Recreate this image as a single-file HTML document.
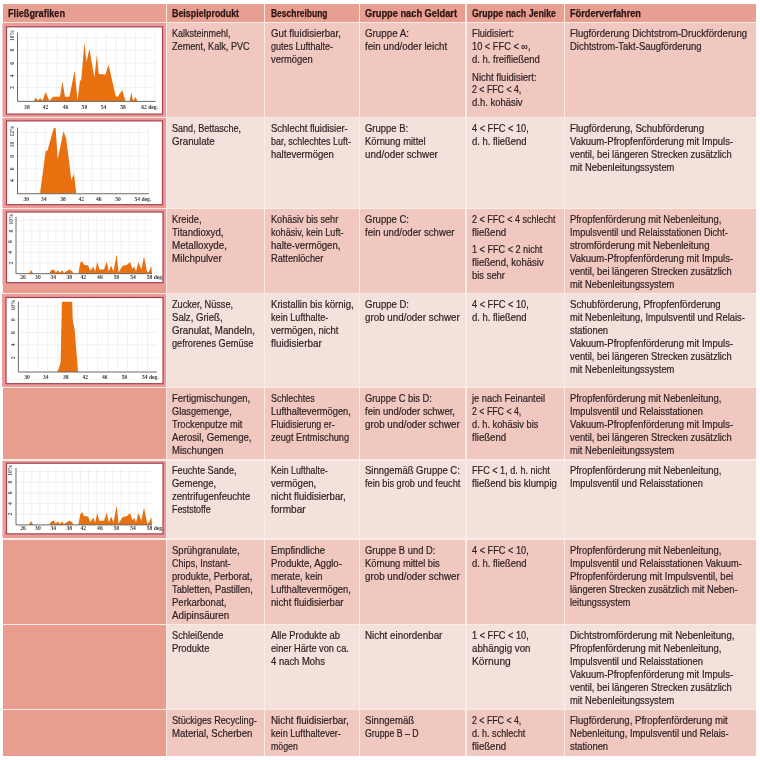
<!DOCTYPE html>
<html lang="de"><head><meta charset="utf-8"><title>Fließgrafiken</title>
<style>
html,body{margin:0;padding:0;background:#fff;}
.bg{position:absolute;left:2.5px;top:4px;width:753.5px;height:751.5px;background:#fbebe7;}
body{width:760px;height:760px;position:relative;overflow:hidden;font-family:"Liberation Sans",Arial,sans-serif;}
#pg{position:absolute;left:0;top:0;width:760px;height:760px;filter:blur(0.4px);background:#fff;}
.c{position:absolute;}
.t{position:absolute;white-space:pre;font-size:10.2px;line-height:12.95px;color:#2a1e20;-webkit-text-stroke:0.2px #2a1e20;transform-origin:0 0;}
.h{position:absolute;white-space:pre;font-size:10.5px;line-height:12px;font-weight:bold;color:#2a1414;transform-origin:0 0;-webkit-text-stroke:0.25px #2a1414;}
svg{position:absolute;left:0;top:0;}
</style></head><body><div id="pg">

<div class="bg"></div>
<div class="c" style="left:2.5px;top:4px;width:163.5px;height:18px;background:#e89e90"></div>
<div class="c" style="left:167px;top:4px;width:97px;height:18px;background:#e89e90"></div>
<div class="c" style="left:265px;top:4px;width:94px;height:18px;background:#e89e90"></div>
<div class="c" style="left:360px;top:4px;width:105px;height:18px;background:#e89e90"></div>
<div class="c" style="left:466.5px;top:4px;width:97.0px;height:18px;background:#e89e90"></div>
<div class="c" style="left:565px;top:4px;width:191px;height:18px;background:#e89e90"></div>
<div class="c" style="left:2.5px;top:23px;width:163.5px;height:94px;background:#e89d8f"></div>
<div class="c" style="left:167px;top:23px;width:97px;height:94px;background:#f0c8c0"></div>
<div class="c" style="left:265px;top:23px;width:94px;height:94px;background:#f0c8c0"></div>
<div class="c" style="left:360px;top:23px;width:105px;height:94px;background:#f0c8c0"></div>
<div class="c" style="left:466.5px;top:23px;width:97.0px;height:94px;background:#f0c8c0"></div>
<div class="c" style="left:565px;top:23px;width:191px;height:94px;background:#f0c8c0"></div>
<div class="c" style="left:2.5px;top:118px;width:163.5px;height:90px;background:#e89d8f"></div>
<div class="c" style="left:167px;top:118px;width:97px;height:90px;background:#f5e1dc"></div>
<div class="c" style="left:265px;top:118px;width:94px;height:90px;background:#f5e1dc"></div>
<div class="c" style="left:360px;top:118px;width:105px;height:90px;background:#f5e1dc"></div>
<div class="c" style="left:466.5px;top:118px;width:97.0px;height:90px;background:#f5e1dc"></div>
<div class="c" style="left:565px;top:118px;width:191px;height:90px;background:#f5e1dc"></div>
<div class="c" style="left:2.5px;top:209px;width:163.5px;height:84px;background:#e89d8f"></div>
<div class="c" style="left:167px;top:209px;width:97px;height:84px;background:#f0c8c0"></div>
<div class="c" style="left:265px;top:209px;width:94px;height:84px;background:#f0c8c0"></div>
<div class="c" style="left:360px;top:209px;width:105px;height:84px;background:#f0c8c0"></div>
<div class="c" style="left:466.5px;top:209px;width:97.0px;height:84px;background:#f0c8c0"></div>
<div class="c" style="left:565px;top:209px;width:191px;height:84px;background:#f0c8c0"></div>
<div class="c" style="left:2.5px;top:294px;width:163.5px;height:93px;background:#e89d8f"></div>
<div class="c" style="left:167px;top:294px;width:97px;height:93px;background:#f5e1dc"></div>
<div class="c" style="left:265px;top:294px;width:94px;height:93px;background:#f5e1dc"></div>
<div class="c" style="left:360px;top:294px;width:105px;height:93px;background:#f5e1dc"></div>
<div class="c" style="left:466.5px;top:294px;width:97.0px;height:93px;background:#f5e1dc"></div>
<div class="c" style="left:565px;top:294px;width:191px;height:93px;background:#f5e1dc"></div>
<div class="c" style="left:2.5px;top:388px;width:163.5px;height:71px;background:#e89d8f"></div>
<div class="c" style="left:167px;top:388px;width:97px;height:71px;background:#f0c8c0"></div>
<div class="c" style="left:265px;top:388px;width:94px;height:71px;background:#f0c8c0"></div>
<div class="c" style="left:360px;top:388px;width:105px;height:71px;background:#f0c8c0"></div>
<div class="c" style="left:466.5px;top:388px;width:97.0px;height:71px;background:#f0c8c0"></div>
<div class="c" style="left:565px;top:388px;width:191px;height:71px;background:#f0c8c0"></div>
<div class="c" style="left:2.5px;top:461px;width:163.5px;height:77px;background:#e89d8f"></div>
<div class="c" style="left:167px;top:461px;width:97px;height:77px;background:#f5e1dc"></div>
<div class="c" style="left:265px;top:461px;width:94px;height:77px;background:#f5e1dc"></div>
<div class="c" style="left:360px;top:461px;width:105px;height:77px;background:#f5e1dc"></div>
<div class="c" style="left:466.5px;top:461px;width:97.0px;height:77px;background:#f5e1dc"></div>
<div class="c" style="left:565px;top:461px;width:191px;height:77px;background:#f5e1dc"></div>
<div class="c" style="left:2.5px;top:540px;width:163.5px;height:84px;background:#e89d8f"></div>
<div class="c" style="left:167px;top:540px;width:97px;height:84px;background:#f0c8c0"></div>
<div class="c" style="left:265px;top:540px;width:94px;height:84px;background:#f0c8c0"></div>
<div class="c" style="left:360px;top:540px;width:105px;height:84px;background:#f0c8c0"></div>
<div class="c" style="left:466.5px;top:540px;width:97.0px;height:84px;background:#f0c8c0"></div>
<div class="c" style="left:565px;top:540px;width:191px;height:84px;background:#f0c8c0"></div>
<div class="c" style="left:2.5px;top:625px;width:163.5px;height:84px;background:#e89d8f"></div>
<div class="c" style="left:167px;top:625px;width:97px;height:84px;background:#f5e1dc"></div>
<div class="c" style="left:265px;top:625px;width:94px;height:84px;background:#f5e1dc"></div>
<div class="c" style="left:360px;top:625px;width:105px;height:84px;background:#f5e1dc"></div>
<div class="c" style="left:466.5px;top:625px;width:97.0px;height:84px;background:#f5e1dc"></div>
<div class="c" style="left:565px;top:625px;width:191px;height:84px;background:#f5e1dc"></div>
<div class="c" style="left:2.5px;top:710px;width:163.5px;height:45.5px;background:#e89d8f"></div>
<div class="c" style="left:167px;top:710px;width:97px;height:45.5px;background:#f0c8c0"></div>
<div class="c" style="left:265px;top:710px;width:94px;height:45.5px;background:#f0c8c0"></div>
<div class="c" style="left:360px;top:710px;width:105px;height:45.5px;background:#f0c8c0"></div>
<div class="c" style="left:466.5px;top:710px;width:97.0px;height:45.5px;background:#f0c8c0"></div>
<div class="c" style="left:565px;top:710px;width:191px;height:45.5px;background:#f0c8c0"></div>
<div class="h" style="left:8px;top:7.16px;transform:scaleX(0.873)">Fließgrafiken</div>
<div class="h" style="left:172.3px;top:7.16px;transform:scaleX(0.845)">Beispielprodukt</div>
<div class="h" style="left:270.6px;top:7.16px;transform:scaleX(0.807)">Beschreibung</div>
<div class="h" style="left:365.0px;top:7.16px;transform:scaleX(0.881)">Gruppe nach Geldart</div>
<div class="h" style="left:471.5px;top:7.16px;transform:scaleX(0.837)">Gruppe nach Jenike</div>
<div class="h" style="left:569.6px;top:7.16px;transform:scaleX(0.875)">Förderverfahren</div>
<div class="t" style="left:172.3px;top:28.39px;transform:scaleX(0.883)">Kalksteinmehl,</div>
<div class="t" style="left:172.3px;top:41.34px;transform:scaleX(0.897)">Zement, Kalk, PVC</div>
<div class="t" style="left:270.6px;top:28.39px;transform:scaleX(0.949)">Gut fluidisierbar,</div>
<div class="t" style="left:270.6px;top:41.34px;transform:scaleX(0.883)">gutes Lufthalte-</div>
<div class="t" style="left:270.6px;top:54.29px;transform:scaleX(0.920)">vermögen</div>
<div class="t" style="left:365.0px;top:28.39px;transform:scaleX(0.959)">Gruppe A:</div>
<div class="t" style="left:365.0px;top:41.34px;transform:scaleX(0.954)">fein und/oder leicht</div>
<div class="t" style="left:471.5px;top:28.39px;transform:scaleX(0.905)">Fluidisiert:</div>
<div class="t" style="left:471.5px;top:41.34px;transform:scaleX(0.908)">10 &lt; FFC &lt; ∞,</div>
<div class="t" style="left:471.5px;top:54.29px;transform:scaleX(0.928)">d. h. freifließend</div>
<div class="t" style="left:471.5px;top:71.54px;transform:scaleX(0.935)">Nicht fluidisiert:</div>
<div class="t" style="left:471.5px;top:84.49px;transform:scaleX(0.862)">2 &lt; FFC &lt; 4,</div>
<div class="t" style="left:471.5px;top:97.44px;transform:scaleX(0.931)">d.h. kohäsiv</div>
<div class="t" style="left:569.6px;top:28.39px;transform:scaleX(0.939)">Flugförderung Dichtstrom-Druckförderung</div>
<div class="t" style="left:569.6px;top:41.34px;transform:scaleX(0.929)">Dichtstrom-Takt-Saugförderung</div>
<div class="t" style="left:172.3px;top:123.39px;transform:scaleX(0.889)">Sand, Bettasche,</div>
<div class="t" style="left:172.3px;top:136.34px;transform:scaleX(0.954)">Granulate</div>
<div class="t" style="left:270.6px;top:123.39px;transform:scaleX(0.928)">Schlecht fluidisier-</div>
<div class="t" style="left:270.6px;top:136.34px;transform:scaleX(0.876)">bar, schlechtes Luft-</div>
<div class="t" style="left:270.6px;top:149.29px;transform:scaleX(0.932)">haltevermögen</div>
<div class="t" style="left:365.0px;top:123.39px;transform:scaleX(0.930)">Gruppe B:</div>
<div class="t" style="left:365.0px;top:136.34px;transform:scaleX(0.923)">Körnung mittel</div>
<div class="t" style="left:365.0px;top:149.29px;transform:scaleX(0.968)">und/oder schwer</div>
<div class="t" style="left:471.5px;top:123.39px;transform:scaleX(0.902)">4 &lt; FFC &lt; 10,</div>
<div class="t" style="left:471.5px;top:136.34px;transform:scaleX(0.927)">d. h. fließend</div>
<div class="t" style="left:569.6px;top:123.39px;transform:scaleX(0.947)">Flugförderung, Schubförderung</div>
<div class="t" style="left:569.6px;top:136.34px;transform:scaleX(0.933)">Vakuum-Pfropfenförderung mit Impuls-</div>
<div class="t" style="left:569.6px;top:149.29px;transform:scaleX(0.918)">ventil, bei längeren Strecken zusätzlich</div>
<div class="t" style="left:569.6px;top:162.24px;transform:scaleX(0.917)">mit Nebenleitungssystem</div>
<div class="t" style="left:172.3px;top:214.19px;transform:scaleX(0.914)">Kreide,</div>
<div class="t" style="left:172.3px;top:227.14px;transform:scaleX(0.942)">Titandioxyd,</div>
<div class="t" style="left:172.3px;top:240.09px;transform:scaleX(0.961)">Metalloxyde,</div>
<div class="t" style="left:172.3px;top:253.04px;transform:scaleX(0.966)">Milchpulver</div>
<div class="t" style="left:270.6px;top:214.19px;transform:scaleX(0.900)">Kohäsiv bis sehr</div>
<div class="t" style="left:270.6px;top:227.14px;transform:scaleX(0.891)">kohäsiv, kein Luft-</div>
<div class="t" style="left:270.6px;top:240.09px;transform:scaleX(0.943)">halte-vermögen,</div>
<div class="t" style="left:270.6px;top:253.04px;transform:scaleX(0.905)">Rattenlöcher</div>
<div class="t" style="left:365.0px;top:214.19px;transform:scaleX(0.936)">Gruppe C:</div>
<div class="t" style="left:365.0px;top:227.14px;transform:scaleX(0.946)">fein und/oder schwer</div>
<div class="t" style="left:471.5px;top:214.19px;transform:scaleX(0.883)">2 &lt; FFC &lt; 4 schlecht</div>
<div class="t" style="left:471.5px;top:227.14px;transform:scaleX(0.941)">fließend</div>
<div class="t" style="left:471.5px;top:244.39px;transform:scaleX(0.894)">1 &lt; FFC &lt; 2 nicht</div>
<div class="t" style="left:471.5px;top:257.34px;transform:scaleX(0.938)">fließend, kohäsiv</div>
<div class="t" style="left:471.5px;top:270.29px;transform:scaleX(0.925)">bis sehr</div>
<div class="t" style="left:569.6px;top:214.19px;transform:scaleX(0.921)">Pfropfenförderung mit Nebenleitung,</div>
<div class="t" style="left:569.6px;top:227.14px;transform:scaleX(0.899)">Impulsventil und Relaisstationen Dicht-</div>
<div class="t" style="left:569.6px;top:240.09px;transform:scaleX(0.940)">stromförderung mit Nebenleitung</div>
<div class="t" style="left:569.6px;top:253.04px;transform:scaleX(0.933)">Vakuum-Pfropfenförderung mit Impuls-</div>
<div class="t" style="left:569.6px;top:265.99px;transform:scaleX(0.918)">ventil, bei längeren Strecken zusätzlich</div>
<div class="t" style="left:569.6px;top:278.94px;transform:scaleX(0.917)">mit Nebenleitungssystem</div>
<div class="t" style="left:172.3px;top:299.29px;transform:scaleX(0.899)">Zucker, Nüsse,</div>
<div class="t" style="left:172.3px;top:312.24px;transform:scaleX(0.941)">Salz, Grieß,</div>
<div class="t" style="left:172.3px;top:325.19px;transform:scaleX(0.957)">Granulat, Mandeln,</div>
<div class="t" style="left:172.3px;top:338.14px;transform:scaleX(0.904)">gefrorenes Gemüse</div>
<div class="t" style="left:270.6px;top:299.29px;transform:scaleX(0.943)">Kristallin bis körnig,</div>
<div class="t" style="left:270.6px;top:312.24px;transform:scaleX(0.895)">kein Lufthalte-</div>
<div class="t" style="left:270.6px;top:325.19px;transform:scaleX(0.930)">vermögen, nicht</div>
<div class="t" style="left:270.6px;top:338.14px;transform:scaleX(0.975)">fluidisierbar</div>
<div class="t" style="left:365.0px;top:299.29px;transform:scaleX(0.936)">Gruppe D:</div>
<div class="t" style="left:365.0px;top:312.24px;transform:scaleX(0.962)">grob und/oder schwer</div>
<div class="t" style="left:471.5px;top:299.29px;transform:scaleX(0.902)">4 &lt; FFC &lt; 10,</div>
<div class="t" style="left:471.5px;top:312.24px;transform:scaleX(0.927)">d. h. fließend</div>
<div class="t" style="left:569.6px;top:299.29px;transform:scaleX(0.940)">Schubförderung, Pfropfenförderung</div>
<div class="t" style="left:569.6px;top:312.24px;transform:scaleX(0.919)">mit Nebenleitung, Impulsventil und Relais-</div>
<div class="t" style="left:569.6px;top:325.19px;transform:scaleX(0.921)">stationen</div>
<div class="t" style="left:569.6px;top:338.14px;transform:scaleX(0.933)">Vakuum-Pfropfenförderung mit Impuls-</div>
<div class="t" style="left:569.6px;top:351.09px;transform:scaleX(0.918)">ventil, bei längeren Strecken zusätzlich</div>
<div class="t" style="left:569.6px;top:364.04px;transform:scaleX(0.917)">mit Nebenleitungssystem</div>
<div class="t" style="left:172.3px;top:393.29px;transform:scaleX(0.933)">Fertigmischungen,</div>
<div class="t" style="left:172.3px;top:406.24px;transform:scaleX(0.902)">Glasgemenge,</div>
<div class="t" style="left:172.3px;top:419.19px;transform:scaleX(0.904)">Trockenputze mit</div>
<div class="t" style="left:172.3px;top:432.14px;transform:scaleX(0.942)">Aerosil, Gemenge,</div>
<div class="t" style="left:172.3px;top:445.09px;transform:scaleX(0.936)">Mischungen</div>
<div class="t" style="left:270.6px;top:393.29px;transform:scaleX(0.875)">Schlechtes</div>
<div class="t" style="left:270.6px;top:406.24px;transform:scaleX(0.916)">Lufthaltevermögen,</div>
<div class="t" style="left:270.6px;top:419.19px;transform:scaleX(0.871)">Fluidisierung er-</div>
<div class="t" style="left:270.6px;top:432.14px;transform:scaleX(0.901)">zeugt Entmischung</div>
<div class="t" style="left:365.0px;top:393.29px;transform:scaleX(0.916)">Gruppe C bis D:</div>
<div class="t" style="left:365.0px;top:406.24px;transform:scaleX(0.929)">fein und/oder schwer,</div>
<div class="t" style="left:365.0px;top:419.19px;transform:scaleX(0.962)">grob und/oder schwer</div>
<div class="t" style="left:471.5px;top:393.29px;transform:scaleX(0.914)">je nach Feinanteil</div>
<div class="t" style="left:471.5px;top:406.24px;transform:scaleX(0.862)">2 &lt; FFC &lt; 4,</div>
<div class="t" style="left:471.5px;top:419.19px;transform:scaleX(0.909)">d. h. kohäsiv bis</div>
<div class="t" style="left:471.5px;top:432.14px;transform:scaleX(0.941)">fließend</div>
<div class="t" style="left:569.6px;top:393.29px;transform:scaleX(0.921)">Pfropfenförderung mit Nebenleitung,</div>
<div class="t" style="left:569.6px;top:406.24px;transform:scaleX(0.909)">Impulsventil und Relaisstationen</div>
<div class="t" style="left:569.6px;top:419.19px;transform:scaleX(0.933)">Vakuum-Pfropfenförderung mit Impuls-</div>
<div class="t" style="left:569.6px;top:432.14px;transform:scaleX(0.918)">ventil, bei längeren Strecken zusätzlich</div>
<div class="t" style="left:569.6px;top:445.09px;transform:scaleX(0.917)">mit Nebenleitungssystem</div>
<div class="t" style="left:172.3px;top:464.99px;transform:scaleX(0.897)">Feuchte Sande,</div>
<div class="t" style="left:172.3px;top:477.94px;transform:scaleX(0.925)">Gemenge,</div>
<div class="t" style="left:172.3px;top:490.89px;transform:scaleX(0.933)">zentrifugenfeuchte</div>
<div class="t" style="left:172.3px;top:503.84px;transform:scaleX(0.869)">Feststoffe</div>
<div class="t" style="left:270.6px;top:464.99px;transform:scaleX(0.863)">Kein Lufthalte-</div>
<div class="t" style="left:270.6px;top:477.94px;transform:scaleX(0.939)">vermögen,</div>
<div class="t" style="left:270.6px;top:490.89px;transform:scaleX(0.948)">nicht fluidisierbar,</div>
<div class="t" style="left:270.6px;top:503.84px;transform:scaleX(0.985)">formbar</div>
<div class="t" style="left:365.0px;top:464.99px;transform:scaleX(0.930)">Sinngemäß Gruppe C:</div>
<div class="t" style="left:365.0px;top:477.94px;transform:scaleX(0.900)">fein bis grob und feucht</div>
<div class="t" style="left:471.5px;top:464.99px;transform:scaleX(0.895)">FFC &lt; 1, d. h. nicht</div>
<div class="t" style="left:471.5px;top:477.94px;transform:scaleX(0.943)">fließend bis klumpig</div>
<div class="t" style="left:569.6px;top:464.99px;transform:scaleX(0.921)">Pfropfenförderung mit Nebenleitung,</div>
<div class="t" style="left:569.6px;top:477.94px;transform:scaleX(0.909)">Impulsventil und Relaisstationen</div>
<div class="t" style="left:172.3px;top:544.89px;transform:scaleX(0.934)">Sprühgranulate,</div>
<div class="t" style="left:172.3px;top:557.84px;transform:scaleX(0.891)">Chips, Instant-</div>
<div class="t" style="left:172.3px;top:570.79px;transform:scaleX(0.921)">produkte, Perborat,</div>
<div class="t" style="left:172.3px;top:583.74px;transform:scaleX(0.915)">Tabletten, Pastillen,</div>
<div class="t" style="left:172.3px;top:596.69px;transform:scaleX(0.934)">Perkarbonat,</div>
<div class="t" style="left:172.3px;top:609.64px;transform:scaleX(0.962)">Adipinsäuren</div>
<div class="t" style="left:270.6px;top:544.89px;transform:scaleX(0.928)">Empfindliche</div>
<div class="t" style="left:270.6px;top:557.84px;transform:scaleX(0.941)">Produkte, Agglo-</div>
<div class="t" style="left:270.6px;top:570.79px;transform:scaleX(0.917)">merate, kein</div>
<div class="t" style="left:270.6px;top:583.74px;transform:scaleX(0.915)">Lufthaltevermögen,</div>
<div class="t" style="left:270.6px;top:596.69px;transform:scaleX(0.948)">nicht fluidisierbar</div>
<div class="t" style="left:365.0px;top:544.89px;transform:scaleX(0.920)">Gruppe B und D:</div>
<div class="t" style="left:365.0px;top:557.84px;transform:scaleX(0.917)">Körnung mittel bis</div>
<div class="t" style="left:365.0px;top:570.79px;transform:scaleX(0.962)">grob und/oder schwer</div>
<div class="t" style="left:471.5px;top:544.89px;transform:scaleX(0.902)">4 &lt; FFC &lt; 10,</div>
<div class="t" style="left:471.5px;top:557.84px;transform:scaleX(0.927)">d. h. fließend</div>
<div class="t" style="left:569.6px;top:544.89px;transform:scaleX(0.921)">Pfropfenförderung mit Nebenleitung,</div>
<div class="t" style="left:569.6px;top:557.84px;transform:scaleX(0.909)">Impulsventil und Relaisstationen Vakuum-</div>
<div class="t" style="left:569.6px;top:570.79px;transform:scaleX(0.935)">Pfropfenförderung mit Impulsventil, bei</div>
<div class="t" style="left:569.6px;top:583.74px;transform:scaleX(0.916)">längeren Strecken zusätzlich mit Neben-</div>
<div class="t" style="left:569.6px;top:596.69px;transform:scaleX(0.896)">leitungssystem</div>
<div class="t" style="left:172.3px;top:630.19px;transform:scaleX(0.907)">Schleißende</div>
<div class="t" style="left:172.3px;top:643.14px;transform:scaleX(0.917)">Produkte</div>
<div class="t" style="left:270.6px;top:630.19px;transform:scaleX(0.922)">Alle Produkte ab</div>
<div class="t" style="left:270.6px;top:643.14px;transform:scaleX(0.904)">einer Härte von ca.</div>
<div class="t" style="left:270.6px;top:656.09px;transform:scaleX(0.927)">4 nach Mohs</div>
<div class="t" style="left:365.0px;top:630.19px;transform:scaleX(0.962)">Nicht einordenbar</div>
<div class="t" style="left:471.5px;top:630.19px;transform:scaleX(0.902)">1 &lt; FFC &lt; 10,</div>
<div class="t" style="left:471.5px;top:643.14px;transform:scaleX(0.956)">abhängig von</div>
<div class="t" style="left:471.5px;top:656.09px;transform:scaleX(1.007)">Körnung</div>
<div class="t" style="left:569.6px;top:630.19px;transform:scaleX(0.943)">Dichtstromförderung mit Nebenleitung,</div>
<div class="t" style="left:569.6px;top:643.14px;transform:scaleX(0.921)">Pfropfenförderung mit Nebenleitung,</div>
<div class="t" style="left:569.6px;top:656.09px;transform:scaleX(0.909)">Impulsventil und Relaisstationen</div>
<div class="t" style="left:569.6px;top:669.04px;transform:scaleX(0.933)">Vakuum-Pfropfenförderung mit Impuls-</div>
<div class="t" style="left:569.6px;top:681.99px;transform:scaleX(0.918)">ventil, bei längeren Strecken zusätzlich</div>
<div class="t" style="left:569.6px;top:694.94px;transform:scaleX(0.917)">mit Nebenleitungssystem</div>
<div class="t" style="left:172.3px;top:714.99px;transform:scaleX(0.897)">Stückiges Recycling-</div>
<div class="t" style="left:172.3px;top:727.94px;transform:scaleX(0.939)">Material, Scherben</div>
<div class="t" style="left:270.6px;top:714.99px;transform:scaleX(0.968)">Nicht fluidisierbar,</div>
<div class="t" style="left:270.6px;top:727.94px;transform:scaleX(0.894)">kein Lufthaltever-</div>
<div class="t" style="left:270.6px;top:740.89px;transform:scaleX(0.860)">mögen</div>
<div class="t" style="left:365.0px;top:714.99px;transform:scaleX(0.944)">Sinngemäß</div>
<div class="t" style="left:365.0px;top:727.94px;transform:scaleX(0.862)">Gruppe B – D</div>
<div class="t" style="left:471.5px;top:714.99px;transform:scaleX(0.862)">2 &lt; FFC &lt; 4,</div>
<div class="t" style="left:471.5px;top:727.94px;transform:scaleX(0.888)">d. h. schlecht</div>
<div class="t" style="left:471.5px;top:740.89px;transform:scaleX(0.941)">fließend</div>
<div class="t" style="left:569.6px;top:714.99px;transform:scaleX(0.941)">Flugförderung, Pfropfenförderung mit</div>
<div class="t" style="left:569.6px;top:727.94px;transform:scaleX(0.912)">Nebenleitung, Impulsventil und Relais-</div>
<div class="t" style="left:569.6px;top:740.89px;transform:scaleX(0.921)">stationen</div>
<svg width="760" height="760" viewBox="0 0 760 760">
<rect x="2.5" y="23.3" width="163.0" height="93.7" fill="#ee9a98"/>
<rect x="6.5" y="26.8" width="156" height="87.3" fill="#fff" stroke="#a0424f" stroke-width="1.2"/>
<line x1="27.50" y1="32.6" x2="27.50" y2="101.4" stroke="#ebebee" stroke-width="0.7"/>
<line x1="37.30" y1="32.6" x2="37.30" y2="101.4" stroke="#ebebee" stroke-width="0.7"/>
<line x1="47.10" y1="32.6" x2="47.10" y2="101.4" stroke="#ebebee" stroke-width="0.7"/>
<line x1="56.90" y1="32.6" x2="56.90" y2="101.4" stroke="#ebebee" stroke-width="0.7"/>
<line x1="66.70" y1="32.6" x2="66.70" y2="101.4" stroke="#ebebee" stroke-width="0.7"/>
<line x1="76.50" y1="32.6" x2="76.50" y2="101.4" stroke="#ebebee" stroke-width="0.7"/>
<line x1="86.30" y1="32.6" x2="86.30" y2="101.4" stroke="#ebebee" stroke-width="0.7"/>
<line x1="96.10" y1="32.6" x2="96.10" y2="101.4" stroke="#ebebee" stroke-width="0.7"/>
<line x1="105.90" y1="32.6" x2="105.90" y2="101.4" stroke="#ebebee" stroke-width="0.7"/>
<line x1="115.70" y1="32.6" x2="115.70" y2="101.4" stroke="#ebebee" stroke-width="0.7"/>
<line x1="125.50" y1="32.6" x2="125.50" y2="101.4" stroke="#ebebee" stroke-width="0.7"/>
<line x1="135.30" y1="32.6" x2="135.30" y2="101.4" stroke="#ebebee" stroke-width="0.7"/>
<line x1="145.10" y1="32.6" x2="145.10" y2="101.4" stroke="#ebebee" stroke-width="0.7"/>
<line x1="154.90" y1="32.6" x2="154.90" y2="101.4" stroke="#ebebee" stroke-width="0.7"/>
<line x1="17.5" y1="37.60" x2="155.5" y2="37.60" stroke="#ebebee" stroke-width="0.7"/>
<line x1="17.5" y1="50.10" x2="155.5" y2="50.10" stroke="#ebebee" stroke-width="0.7"/>
<line x1="17.5" y1="63.25" x2="155.5" y2="63.25" stroke="#ebebee" stroke-width="0.7"/>
<line x1="17.5" y1="75.75" x2="155.5" y2="75.75" stroke="#ebebee" stroke-width="0.7"/>
<line x1="17.5" y1="87.60" x2="155.5" y2="87.60" stroke="#ebebee" stroke-width="0.7"/>
<polygon points="33.75,101.40 35.60,97.60 38.10,100.75 40.25,97.90 42.50,101.00 45.60,92.00 49.40,101.00 53.10,96.75 60.00,96.75 62.50,81.40 65.00,96.75 69.40,96.75 74.60,70.75 77.50,100.75 80.00,80.75 81.25,80.10 84.40,42.60 86.50,62.00 89.40,48.90 94.40,77.60 96.90,54.50 98.75,73.90 105.60,74.50 108.50,64.50 115.60,95.75 117.50,97.00 122.25,90.10 125.60,101.40 129.40,101.40 131.25,92.60 133.10,100.75 135.60,97.00 137.50,101.40" fill="#e8700f"/>
<line x1="17.5" y1="32.6" x2="17.5" y2="101.4" stroke="#6a6a6a" stroke-width="1"/>
<line x1="17.5" y1="101.4" x2="155.5" y2="101.4" stroke="#6a6a6a" stroke-width="1"/>
<text x="26.9" y="108.6" text-anchor="middle" font-family="Liberation Serif" font-size="5.6" font-weight="bold" fill="#3a3a3a">38</text>
<text x="45.6" y="108.6" text-anchor="middle" font-family="Liberation Serif" font-size="5.6" font-weight="bold" fill="#3a3a3a">42</text>
<text x="65.6" y="108.6" text-anchor="middle" font-family="Liberation Serif" font-size="5.6" font-weight="bold" fill="#3a3a3a">46</text>
<text x="84.4" y="108.6" text-anchor="middle" font-family="Liberation Serif" font-size="5.6" font-weight="bold" fill="#3a3a3a">50</text>
<text x="103.5" y="108.6" text-anchor="middle" font-family="Liberation Serif" font-size="5.6" font-weight="bold" fill="#3a3a3a">54</text>
<text x="123.1" y="108.6" text-anchor="middle" font-family="Liberation Serif" font-size="5.6" font-weight="bold" fill="#3a3a3a">58</text>
<text x="141.2" y="108.6" font-family="Liberation Serif" font-size="5.6" font-weight="bold" fill="#3a3a3a">62 deg.</text>
<text x="14.0" y="35.5" transform="rotate(-90 14.0 35.5)" text-anchor="middle" font-family="Liberation Serif" font-size="5.6" font-weight="bold" fill="#4a4a4a">10%</text>
<text x="14.0" y="50.1" transform="rotate(-90 14.0 50.1)" text-anchor="middle" font-family="Liberation Serif" font-size="5.6" font-weight="bold" fill="#4a4a4a">8</text>
<text x="14.0" y="63.25" transform="rotate(-90 14.0 63.25)" text-anchor="middle" font-family="Liberation Serif" font-size="5.6" font-weight="bold" fill="#4a4a4a">6</text>
<text x="14.0" y="75.75" transform="rotate(-90 14.0 75.75)" text-anchor="middle" font-family="Liberation Serif" font-size="5.6" font-weight="bold" fill="#4a4a4a">4</text>
<text x="14.0" y="87.6" transform="rotate(-90 14.0 87.6)" text-anchor="middle" font-family="Liberation Serif" font-size="5.6" font-weight="bold" fill="#4a4a4a">2</text>
<rect x="2.5" y="118" width="163.0" height="89.69999999999999" fill="#ee9a98"/>
<rect x="6.5" y="120.9" width="156" height="83.79999999999998" fill="#fff" stroke="#a0424f" stroke-width="1.2"/>
<line x1="26.25" y1="127.5" x2="26.25" y2="193.75" stroke="#ebebee" stroke-width="0.7"/>
<line x1="35.65" y1="127.5" x2="35.65" y2="193.75" stroke="#ebebee" stroke-width="0.7"/>
<line x1="45.05" y1="127.5" x2="45.05" y2="193.75" stroke="#ebebee" stroke-width="0.7"/>
<line x1="54.45" y1="127.5" x2="54.45" y2="193.75" stroke="#ebebee" stroke-width="0.7"/>
<line x1="63.85" y1="127.5" x2="63.85" y2="193.75" stroke="#ebebee" stroke-width="0.7"/>
<line x1="73.25" y1="127.5" x2="73.25" y2="193.75" stroke="#ebebee" stroke-width="0.7"/>
<line x1="82.65" y1="127.5" x2="82.65" y2="193.75" stroke="#ebebee" stroke-width="0.7"/>
<line x1="92.05" y1="127.5" x2="92.05" y2="193.75" stroke="#ebebee" stroke-width="0.7"/>
<line x1="101.45" y1="127.5" x2="101.45" y2="193.75" stroke="#ebebee" stroke-width="0.7"/>
<line x1="110.85" y1="127.5" x2="110.85" y2="193.75" stroke="#ebebee" stroke-width="0.7"/>
<line x1="120.25" y1="127.5" x2="120.25" y2="193.75" stroke="#ebebee" stroke-width="0.7"/>
<line x1="129.65" y1="127.5" x2="129.65" y2="193.75" stroke="#ebebee" stroke-width="0.7"/>
<line x1="139.05" y1="127.5" x2="139.05" y2="193.75" stroke="#ebebee" stroke-width="0.7"/>
<line x1="148.45" y1="127.5" x2="148.45" y2="193.75" stroke="#ebebee" stroke-width="0.7"/>
<line x1="17.5" y1="132.50" x2="148.75" y2="132.50" stroke="#ebebee" stroke-width="0.7"/>
<line x1="17.5" y1="144.40" x2="148.75" y2="144.40" stroke="#ebebee" stroke-width="0.7"/>
<line x1="17.5" y1="156.25" x2="148.75" y2="156.25" stroke="#ebebee" stroke-width="0.7"/>
<line x1="17.5" y1="168.75" x2="148.75" y2="168.75" stroke="#ebebee" stroke-width="0.7"/>
<line x1="17.5" y1="180.60" x2="148.75" y2="180.60" stroke="#ebebee" stroke-width="0.7"/>
<polygon points="40.00,193.75 45.60,151.25 47.50,150.60 53.75,128.10 55.60,128.10 57.75,158.75 63.50,131.25 66.25,138.75 71.25,180.00 74.00,173.75 76.25,193.75" fill="#e8700f"/>
<line x1="17.5" y1="127.5" x2="17.5" y2="193.75" stroke="#6a6a6a" stroke-width="1"/>
<line x1="17.5" y1="193.75" x2="148.75" y2="193.75" stroke="#6a6a6a" stroke-width="1"/>
<text x="26.25" y="200.6" text-anchor="middle" font-family="Liberation Serif" font-size="5.6" font-weight="bold" fill="#3a3a3a">30</text>
<text x="43.75" y="200.6" text-anchor="middle" font-family="Liberation Serif" font-size="5.6" font-weight="bold" fill="#3a3a3a">34</text>
<text x="63.1" y="200.6" text-anchor="middle" font-family="Liberation Serif" font-size="5.6" font-weight="bold" fill="#3a3a3a">38</text>
<text x="81.25" y="200.6" text-anchor="middle" font-family="Liberation Serif" font-size="5.6" font-weight="bold" fill="#3a3a3a">42</text>
<text x="98.75" y="200.6" text-anchor="middle" font-family="Liberation Serif" font-size="5.6" font-weight="bold" fill="#3a3a3a">46</text>
<text x="118.1" y="200.6" text-anchor="middle" font-family="Liberation Serif" font-size="5.6" font-weight="bold" fill="#3a3a3a">50</text>
<text x="134.4" y="200.6" font-family="Liberation Serif" font-size="5.6" font-weight="bold" fill="#3a3a3a">54 deg.</text>
<text x="14.0" y="131" transform="rotate(-90 14.0 131)" text-anchor="middle" font-family="Liberation Serif" font-size="5.6" font-weight="bold" fill="#4a4a4a">12%</text>
<text x="14.0" y="144.4" transform="rotate(-90 14.0 144.4)" text-anchor="middle" font-family="Liberation Serif" font-size="5.6" font-weight="bold" fill="#4a4a4a">10</text>
<text x="14.0" y="156.25" transform="rotate(-90 14.0 156.25)" text-anchor="middle" font-family="Liberation Serif" font-size="5.6" font-weight="bold" fill="#4a4a4a">8</text>
<text x="14.0" y="168.75" transform="rotate(-90 14.0 168.75)" text-anchor="middle" font-family="Liberation Serif" font-size="5.6" font-weight="bold" fill="#4a4a4a">6</text>
<text x="14.0" y="180.6" transform="rotate(-90 14.0 180.6)" text-anchor="middle" font-family="Liberation Serif" font-size="5.6" font-weight="bold" fill="#4a4a4a">4</text>
<rect x="2.5" y="209" width="163.5" height="76.69999999999999" fill="#ee9a98"/>
<rect x="6.5" y="212.0" width="156.5" height="70.69999999999999" fill="#fff" stroke="#a0424f" stroke-width="1.2"/>
<line x1="23.70" y1="216.8" x2="23.70" y2="273.7" stroke="#ebebee" stroke-width="0.7"/>
<line x1="31.80" y1="216.8" x2="31.80" y2="273.7" stroke="#ebebee" stroke-width="0.7"/>
<line x1="39.90" y1="216.8" x2="39.90" y2="273.7" stroke="#ebebee" stroke-width="0.7"/>
<line x1="48.00" y1="216.8" x2="48.00" y2="273.7" stroke="#ebebee" stroke-width="0.7"/>
<line x1="56.10" y1="216.8" x2="56.10" y2="273.7" stroke="#ebebee" stroke-width="0.7"/>
<line x1="64.20" y1="216.8" x2="64.20" y2="273.7" stroke="#ebebee" stroke-width="0.7"/>
<line x1="72.30" y1="216.8" x2="72.30" y2="273.7" stroke="#ebebee" stroke-width="0.7"/>
<line x1="80.40" y1="216.8" x2="80.40" y2="273.7" stroke="#ebebee" stroke-width="0.7"/>
<line x1="88.50" y1="216.8" x2="88.50" y2="273.7" stroke="#ebebee" stroke-width="0.7"/>
<line x1="96.60" y1="216.8" x2="96.60" y2="273.7" stroke="#ebebee" stroke-width="0.7"/>
<line x1="104.70" y1="216.8" x2="104.70" y2="273.7" stroke="#ebebee" stroke-width="0.7"/>
<line x1="112.80" y1="216.8" x2="112.80" y2="273.7" stroke="#ebebee" stroke-width="0.7"/>
<line x1="120.90" y1="216.8" x2="120.90" y2="273.7" stroke="#ebebee" stroke-width="0.7"/>
<line x1="129.00" y1="216.8" x2="129.00" y2="273.7" stroke="#ebebee" stroke-width="0.7"/>
<line x1="137.10" y1="216.8" x2="137.10" y2="273.7" stroke="#ebebee" stroke-width="0.7"/>
<line x1="145.20" y1="216.8" x2="145.20" y2="273.7" stroke="#ebebee" stroke-width="0.7"/>
<line x1="16" y1="220.40" x2="152" y2="220.40" stroke="#ebebee" stroke-width="0.7"/>
<line x1="16" y1="231.00" x2="152" y2="231.00" stroke="#ebebee" stroke-width="0.7"/>
<line x1="16" y1="241.70" x2="152" y2="241.70" stroke="#ebebee" stroke-width="0.7"/>
<line x1="16" y1="252.40" x2="152" y2="252.40" stroke="#ebebee" stroke-width="0.7"/>
<line x1="16" y1="263.00" x2="152" y2="263.00" stroke="#ebebee" stroke-width="0.7"/>
<polygon points="29.00,273.70 31.00,269.90 33.20,273.70" fill="#e8700f"/>
<polygon points="49.20,273.70 51.00,270.20 53.90,269.60 55.70,272.50 58.00,270.20 59.80,272.80 62.20,270.20 64.00,273.10 67.00,270.80 69.90,269.60 72.30,271.40 73.50,273.70" fill="#e8700f"/>
<polygon points="78.30,273.70 80.30,263.00 82.10,260.90 83.90,264.80 88.00,265.40 90.40,270.80 93.40,266.40 95.10,271.40 97.30,261.90 99.30,269.60 104.00,269.60 106.75,261.60 108.80,271.40 111.10,265.40 113.50,271.40 116.70,254.20 118.60,272.50 122.40,266.00 127.10,264.80 130.10,261.90 132.50,269.00 134.20,266.60 136.00,271.40 138.40,261.90 141.40,269.60 144.00,256.50 147.30,272.50 149.00,271.40 151.40,266.00 152.00,273.70" fill="#e8700f"/>
<line x1="16" y1="216.8" x2="16" y2="273.7" stroke="#6a6a6a" stroke-width="1"/>
<line x1="16" y1="273.7" x2="152" y2="273.7" stroke="#6a6a6a" stroke-width="1"/>
<text x="23.1" y="279" text-anchor="middle" font-family="Liberation Serif" font-size="5.6" font-weight="bold" fill="#3a3a3a">26</text>
<text x="37.9" y="279" text-anchor="middle" font-family="Liberation Serif" font-size="5.6" font-weight="bold" fill="#3a3a3a">30</text>
<text x="53.3" y="279" text-anchor="middle" font-family="Liberation Serif" font-size="5.6" font-weight="bold" fill="#3a3a3a">34</text>
<text x="69.3" y="279" text-anchor="middle" font-family="Liberation Serif" font-size="5.6" font-weight="bold" fill="#3a3a3a">38</text>
<text x="83.3" y="279" text-anchor="middle" font-family="Liberation Serif" font-size="5.6" font-weight="bold" fill="#3a3a3a">42</text>
<text x="99.9" y="279" text-anchor="middle" font-family="Liberation Serif" font-size="5.6" font-weight="bold" fill="#3a3a3a">46</text>
<text x="116.5" y="279" text-anchor="middle" font-family="Liberation Serif" font-size="5.6" font-weight="bold" fill="#3a3a3a">50</text>
<text x="133" y="279" text-anchor="middle" font-family="Liberation Serif" font-size="5.6" font-weight="bold" fill="#3a3a3a">54</text>
<text x="146.7" y="279" font-family="Liberation Serif" font-size="5.6" font-weight="bold" fill="#3a3a3a">58 deg.</text>
<text x="12.5" y="219" transform="rotate(-90 12.5 219)" text-anchor="middle" font-family="Liberation Serif" font-size="5.6" font-weight="bold" fill="#4a4a4a">10%</text>
<text x="12.5" y="231" transform="rotate(-90 12.5 231)" text-anchor="middle" font-family="Liberation Serif" font-size="5.6" font-weight="bold" fill="#4a4a4a">8</text>
<text x="12.5" y="241.7" transform="rotate(-90 12.5 241.7)" text-anchor="middle" font-family="Liberation Serif" font-size="5.6" font-weight="bold" fill="#4a4a4a">6</text>
<text x="12.5" y="252.4" transform="rotate(-90 12.5 252.4)" text-anchor="middle" font-family="Liberation Serif" font-size="5.6" font-weight="bold" fill="#4a4a4a">4</text>
<text x="12.5" y="263" transform="rotate(-90 12.5 263)" text-anchor="middle" font-family="Liberation Serif" font-size="5.6" font-weight="bold" fill="#4a4a4a">2</text>
<rect x="2" y="294" width="164" height="92.69999999999999" fill="#ee9a98"/>
<rect x="6.0" y="297.5" width="157.0" height="86.19999999999999" fill="#fff" stroke="#a0424f" stroke-width="1.2"/>
<line x1="27.70" y1="301.7" x2="27.70" y2="372" stroke="#ebebee" stroke-width="0.7"/>
<line x1="37.69" y1="301.7" x2="37.69" y2="372" stroke="#ebebee" stroke-width="0.7"/>
<line x1="47.68" y1="301.7" x2="47.68" y2="372" stroke="#ebebee" stroke-width="0.7"/>
<line x1="57.67" y1="301.7" x2="57.67" y2="372" stroke="#ebebee" stroke-width="0.7"/>
<line x1="67.66" y1="301.7" x2="67.66" y2="372" stroke="#ebebee" stroke-width="0.7"/>
<line x1="77.65" y1="301.7" x2="77.65" y2="372" stroke="#ebebee" stroke-width="0.7"/>
<line x1="87.64" y1="301.7" x2="87.64" y2="372" stroke="#ebebee" stroke-width="0.7"/>
<line x1="97.63" y1="301.7" x2="97.63" y2="372" stroke="#ebebee" stroke-width="0.7"/>
<line x1="107.62" y1="301.7" x2="107.62" y2="372" stroke="#ebebee" stroke-width="0.7"/>
<line x1="117.61" y1="301.7" x2="117.61" y2="372" stroke="#ebebee" stroke-width="0.7"/>
<line x1="127.60" y1="301.7" x2="127.60" y2="372" stroke="#ebebee" stroke-width="0.7"/>
<line x1="137.59" y1="301.7" x2="137.59" y2="372" stroke="#ebebee" stroke-width="0.7"/>
<line x1="147.58" y1="301.7" x2="147.58" y2="372" stroke="#ebebee" stroke-width="0.7"/>
<line x1="18.4" y1="306.20" x2="156.9" y2="306.20" stroke="#ebebee" stroke-width="0.7"/>
<line x1="18.4" y1="319.70" x2="156.9" y2="319.70" stroke="#ebebee" stroke-width="0.7"/>
<line x1="18.4" y1="332.60" x2="156.9" y2="332.60" stroke="#ebebee" stroke-width="0.7"/>
<line x1="18.4" y1="344.90" x2="156.9" y2="344.90" stroke="#ebebee" stroke-width="0.7"/>
<line x1="18.4" y1="357.80" x2="156.9" y2="357.80" stroke="#ebebee" stroke-width="0.7"/>
<polygon points="57.40,372.00 60.60,362.90 61.90,301.70 72.20,301.70 72.80,320.40 74.80,330.70 78.00,372.00" fill="#e8700f"/>
<line x1="18.4" y1="301.7" x2="18.4" y2="372" stroke="#6a6a6a" stroke-width="1"/>
<line x1="18.4" y1="372" x2="156.9" y2="372" stroke="#6a6a6a" stroke-width="1"/>
<text x="27" y="379" text-anchor="middle" font-family="Liberation Serif" font-size="5.6" font-weight="bold" fill="#3a3a3a">30</text>
<text x="45.8" y="379" text-anchor="middle" font-family="Liberation Serif" font-size="5.6" font-weight="bold" fill="#3a3a3a">34</text>
<text x="65.8" y="379" text-anchor="middle" font-family="Liberation Serif" font-size="5.6" font-weight="bold" fill="#3a3a3a">38</text>
<text x="85.2" y="379" text-anchor="middle" font-family="Liberation Serif" font-size="5.6" font-weight="bold" fill="#3a3a3a">42</text>
<text x="104.7" y="379" text-anchor="middle" font-family="Liberation Serif" font-size="5.6" font-weight="bold" fill="#3a3a3a">46</text>
<text x="124.6" y="379" text-anchor="middle" font-family="Liberation Serif" font-size="5.6" font-weight="bold" fill="#3a3a3a">50</text>
<text x="142" y="379" font-family="Liberation Serif" font-size="5.6" font-weight="bold" fill="#3a3a3a">54 deg.</text>
<text x="14.899999999999999" y="305" transform="rotate(-90 14.899999999999999 305)" text-anchor="middle" font-family="Liberation Serif" font-size="5.6" font-weight="bold" fill="#4a4a4a">10%</text>
<text x="14.899999999999999" y="319.7" transform="rotate(-90 14.899999999999999 319.7)" text-anchor="middle" font-family="Liberation Serif" font-size="5.6" font-weight="bold" fill="#4a4a4a">8</text>
<text x="14.899999999999999" y="332.6" transform="rotate(-90 14.899999999999999 332.6)" text-anchor="middle" font-family="Liberation Serif" font-size="5.6" font-weight="bold" fill="#4a4a4a">6</text>
<text x="14.899999999999999" y="344.9" transform="rotate(-90 14.899999999999999 344.9)" text-anchor="middle" font-family="Liberation Serif" font-size="5.6" font-weight="bold" fill="#4a4a4a">4</text>
<text x="14.899999999999999" y="357.8" transform="rotate(-90 14.899999999999999 357.8)" text-anchor="middle" font-family="Liberation Serif" font-size="5.6" font-weight="bold" fill="#4a4a4a">2</text>
<rect x="2.5" y="461" width="163.5" height="75.89999999999998" fill="#ee9a98"/>
<rect x="6.5" y="463.2" width="156.5" height="70.69999999999999" fill="#fff" stroke="#a0424f" stroke-width="1.2"/>
<line x1="23.70" y1="468.0" x2="23.70" y2="524.9" stroke="#ebebee" stroke-width="0.7"/>
<line x1="31.80" y1="468.0" x2="31.80" y2="524.9" stroke="#ebebee" stroke-width="0.7"/>
<line x1="39.90" y1="468.0" x2="39.90" y2="524.9" stroke="#ebebee" stroke-width="0.7"/>
<line x1="48.00" y1="468.0" x2="48.00" y2="524.9" stroke="#ebebee" stroke-width="0.7"/>
<line x1="56.10" y1="468.0" x2="56.10" y2="524.9" stroke="#ebebee" stroke-width="0.7"/>
<line x1="64.20" y1="468.0" x2="64.20" y2="524.9" stroke="#ebebee" stroke-width="0.7"/>
<line x1="72.30" y1="468.0" x2="72.30" y2="524.9" stroke="#ebebee" stroke-width="0.7"/>
<line x1="80.40" y1="468.0" x2="80.40" y2="524.9" stroke="#ebebee" stroke-width="0.7"/>
<line x1="88.50" y1="468.0" x2="88.50" y2="524.9" stroke="#ebebee" stroke-width="0.7"/>
<line x1="96.60" y1="468.0" x2="96.60" y2="524.9" stroke="#ebebee" stroke-width="0.7"/>
<line x1="104.70" y1="468.0" x2="104.70" y2="524.9" stroke="#ebebee" stroke-width="0.7"/>
<line x1="112.80" y1="468.0" x2="112.80" y2="524.9" stroke="#ebebee" stroke-width="0.7"/>
<line x1="120.90" y1="468.0" x2="120.90" y2="524.9" stroke="#ebebee" stroke-width="0.7"/>
<line x1="129.00" y1="468.0" x2="129.00" y2="524.9" stroke="#ebebee" stroke-width="0.7"/>
<line x1="137.10" y1="468.0" x2="137.10" y2="524.9" stroke="#ebebee" stroke-width="0.7"/>
<line x1="145.20" y1="468.0" x2="145.20" y2="524.9" stroke="#ebebee" stroke-width="0.7"/>
<line x1="16" y1="471.60" x2="152" y2="471.60" stroke="#ebebee" stroke-width="0.7"/>
<line x1="16" y1="482.20" x2="152" y2="482.20" stroke="#ebebee" stroke-width="0.7"/>
<line x1="16" y1="492.90" x2="152" y2="492.90" stroke="#ebebee" stroke-width="0.7"/>
<line x1="16" y1="503.60" x2="152" y2="503.60" stroke="#ebebee" stroke-width="0.7"/>
<line x1="16" y1="514.20" x2="152" y2="514.20" stroke="#ebebee" stroke-width="0.7"/>
<polygon points="29.00,524.90 31.00,521.10 33.20,524.90" fill="#e8700f"/>
<polygon points="49.20,524.90 51.00,521.40 53.90,520.80 55.70,523.70 58.00,521.40 59.80,524.00 62.20,521.40 64.00,524.30 67.00,522.00 69.90,520.80 72.30,522.60 73.50,524.90" fill="#e8700f"/>
<polygon points="78.30,524.90 80.30,514.20 82.10,512.10 83.90,516.00 88.00,516.60 90.40,522.00 93.40,517.60 95.10,522.60 97.30,513.10 99.30,520.80 104.00,520.80 106.75,512.80 108.80,522.60 111.10,516.60 113.50,522.60 116.70,505.40 118.60,523.70 122.40,517.20 127.10,516.00 130.10,513.10 132.50,520.20 134.20,517.80 136.00,522.60 138.40,513.10 141.40,520.80 144.00,507.70 147.30,523.70 149.00,522.60 151.40,517.20 152.00,524.90" fill="#e8700f"/>
<line x1="16" y1="468.0" x2="16" y2="524.9" stroke="#6a6a6a" stroke-width="1"/>
<line x1="16" y1="524.9" x2="152" y2="524.9" stroke="#6a6a6a" stroke-width="1"/>
<text x="23.1" y="530.2" text-anchor="middle" font-family="Liberation Serif" font-size="5.6" font-weight="bold" fill="#3a3a3a">26</text>
<text x="37.9" y="530.2" text-anchor="middle" font-family="Liberation Serif" font-size="5.6" font-weight="bold" fill="#3a3a3a">30</text>
<text x="53.3" y="530.2" text-anchor="middle" font-family="Liberation Serif" font-size="5.6" font-weight="bold" fill="#3a3a3a">34</text>
<text x="69.3" y="530.2" text-anchor="middle" font-family="Liberation Serif" font-size="5.6" font-weight="bold" fill="#3a3a3a">38</text>
<text x="83.3" y="530.2" text-anchor="middle" font-family="Liberation Serif" font-size="5.6" font-weight="bold" fill="#3a3a3a">42</text>
<text x="99.9" y="530.2" text-anchor="middle" font-family="Liberation Serif" font-size="5.6" font-weight="bold" fill="#3a3a3a">46</text>
<text x="116.5" y="530.2" text-anchor="middle" font-family="Liberation Serif" font-size="5.6" font-weight="bold" fill="#3a3a3a">50</text>
<text x="133" y="530.2" text-anchor="middle" font-family="Liberation Serif" font-size="5.6" font-weight="bold" fill="#3a3a3a">54</text>
<text x="146.7" y="530.2" font-family="Liberation Serif" font-size="5.6" font-weight="bold" fill="#3a3a3a">58 deg.</text>
<text x="12.5" y="470.2" transform="rotate(-90 12.5 470.2)" text-anchor="middle" font-family="Liberation Serif" font-size="5.6" font-weight="bold" fill="#4a4a4a">10%</text>
<text x="12.5" y="482.2" transform="rotate(-90 12.5 482.2)" text-anchor="middle" font-family="Liberation Serif" font-size="5.6" font-weight="bold" fill="#4a4a4a">8</text>
<text x="12.5" y="492.9" transform="rotate(-90 12.5 492.9)" text-anchor="middle" font-family="Liberation Serif" font-size="5.6" font-weight="bold" fill="#4a4a4a">6</text>
<text x="12.5" y="503.6" transform="rotate(-90 12.5 503.6)" text-anchor="middle" font-family="Liberation Serif" font-size="5.6" font-weight="bold" fill="#4a4a4a">4</text>
<text x="12.5" y="514.2" transform="rotate(-90 12.5 514.2)" text-anchor="middle" font-family="Liberation Serif" font-size="5.6" font-weight="bold" fill="#4a4a4a">2</text>
</svg>
</div></body></html>
